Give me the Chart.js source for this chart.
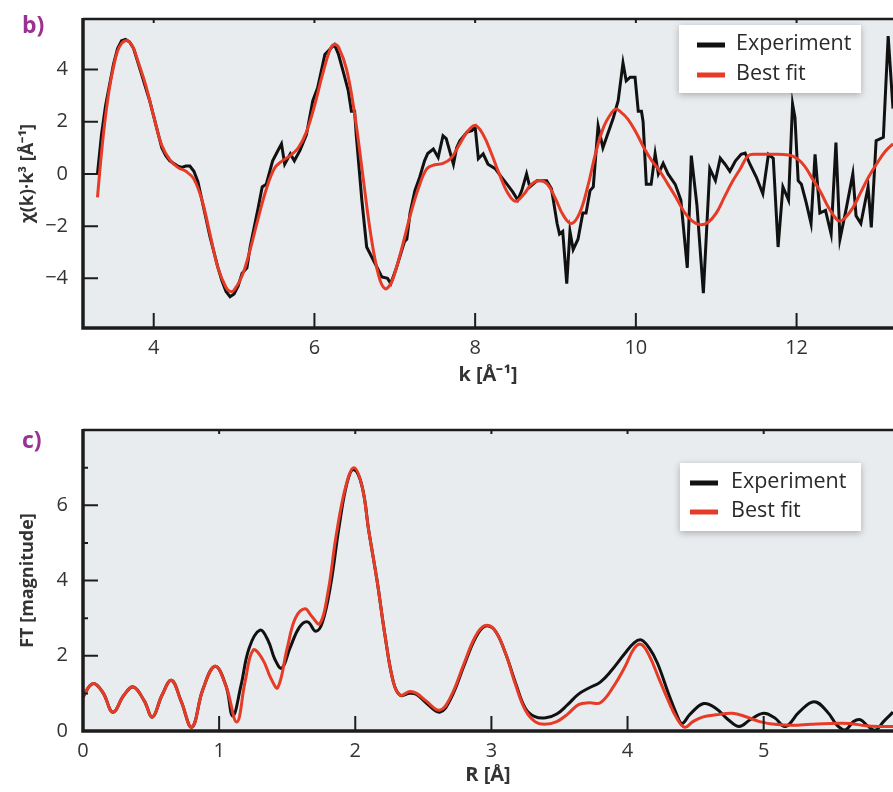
<!DOCTYPE html>
<html>
<head>
<meta charset="utf-8">
<script src="https://cdn.jsdelivr.net/npm/chart.js@4.4.1/dist/chart.umd.min.js"></script>
<style>
  body { margin: 0; background: #fff; }
  #wrap { position: relative; width: 893px; height: 792px; overflow: hidden; }
  .box { position: absolute; left: 0; width: 893px; height: 396px; }
  .tag { position: absolute; left: 22px; font: bold 23px "Open Sans", sans-serif; color: #9b3192; }
</style>
</head>
<body>
<div id="wrap">
  <div class="box" style="top:0"><canvas id="chartB" width="893" height="396"></canvas></div>
  <div class="box" style="top:396px"><canvas id="chartC" width="893" height="396"></canvas></div>
  <div class="tag" style="top:8px">b)</div>
  <div class="tag" style="top:423px">c)</div>
</div>
<script>
// ---- panel b: chi(k)*k^3 ----
const kExp = [3.3,3.35,3.4,3.45,3.5,3.55,3.6,3.65,3.7,3.75,3.8,3.85,3.9,3.95,4.0,4.05,4.1,4.15,4.2,4.25,4.3,4.35,4.4,4.45,4.5,4.55,4.6,4.65,4.7,4.75,4.8,4.85,4.9,4.95,5.0,5.05,5.1,5.16,5.2,5.24,5.3,5.35,5.4,5.48,5.53,5.59,5.63,5.7,5.75,5.82,5.9,5.98,6.04,6.13,6.21,6.25,6.3,6.36,6.42,6.46,6.5,6.52,6.59,6.65,6.75,6.84,6.91,6.95,7.02,7.09,7.12,7.15,7.19,7.25,7.31,7.37,7.41,7.48,7.54,7.6,7.64,7.73,7.77,7.81,7.9,7.96,8.0,8.04,8.1,8.16,8.25,8.33,8.41,8.47,8.53,8.58,8.64,8.68,8.77,8.89,8.95,9.02,9.05,9.09,9.14,9.18,9.22,9.28,9.34,9.38,9.43,9.47,9.53,9.59,9.72,9.78,9.84,9.88,9.93,9.99,10.03,10.07,10.09,10.13,10.19,10.24,10.28,10.34,10.4,10.49,10.56,10.64,10.69,10.76,10.84,10.92,10.99,11.05,11.11,11.17,11.24,11.31,11.36,11.42,11.5,11.58,11.65,11.71,11.77,11.83,11.9,11.95,11.98,12.02,12.06,12.12,12.18,12.23,12.29,12.36,12.43,12.49,12.54,12.62,12.7,12.74,12.8,12.89,12.93,12.99,13.08,13.14,13.2];
const chiExp = [0.0,1.5,2.6,3.4,4.2,4.8,5.1,5.15,5.05,4.8,4.3,3.8,3.3,2.8,2.2,1.6,1.0,0.7,0.5,0.4,0.3,0.25,0.3,0.3,0.1,-0.3,-1.0,-1.7,-2.4,-3.0,-3.6,-4.1,-4.5,-4.7,-4.6,-4.3,-3.8,-3.6,-2.8,-2.2,-1.3,-0.5,-0.4,0.5,0.8,1.15,0.37,0.77,0.5,0.9,1.5,2.8,3.3,4.57,4.83,4.95,4.57,3.9,3.2,2.4,2.4,1.5,-1.0,-2.8,-3.4,-3.95,-4.0,-4.2,-3.6,-2.9,-2.6,-2.5,-1.5,-0.64,-0.13,0.5,0.78,0.95,0.63,1.46,1.35,0.37,1.0,1.27,1.6,1.65,1.8,0.58,0.77,0.37,0.2,-0.13,-0.45,-0.7,-1.0,-0.64,0.0,-0.5,-0.26,-0.26,-0.57,-1.9,-2.3,-2.2,-4.2,-2.2,-2.9,-2.5,-1.5,-1.5,-0.64,-0.5,1.84,1.0,2.15,2.8,4.25,3.56,3.7,3.7,2.4,2.4,2.0,-0.4,-0.4,0.77,0.0,0.4,0.0,-0.4,-1.0,-3.6,0.7,-1.2,-4.57,0.2,-0.26,0.6,0.37,0.1,0.5,0.75,0.8,0.37,-0.13,-0.76,0.75,0.6,-2.8,-0.5,-1.0,2.67,2.15,-0.26,-0.4,-1.1,-1.9,0.75,-1.5,-1.4,-2.3,1.2,-2.5,-1.3,0.0,-1.6,-1.9,-0.5,-2.05,1.27,1.4,5.28,2.5];
const kFit = [3.3,3.35,3.4,3.45,3.5,3.55,3.6,3.65,3.7,3.75,3.8,3.9,4.0,4.1,4.2,4.3,4.4,4.5,4.6,4.7,4.8,4.9,4.95,5.0,5.1,5.2,5.3,5.4,5.5,5.6,5.7,5.8,5.9,6.0,6.1,6.2,6.25,6.3,6.4,6.5,6.6,6.7,6.8,6.88,6.95,7.0,7.1,7.2,7.3,7.4,7.5,7.6,7.7,7.8,7.9,8.0,8.1,8.2,8.3,8.4,8.5,8.6,8.7,8.8,8.9,9.0,9.1,9.2,9.3,9.4,9.5,9.6,9.7,9.75,9.8,9.9,10.0,10.1,10.2,10.3,10.4,10.5,10.6,10.7,10.8,10.9,11.0,11.1,11.2,11.3,11.4,11.5,11.7,11.9,12.0,12.1,12.2,12.3,12.4,12.5,12.55,12.6,12.7,12.8,12.9,13.0,13.1,13.2];
const chiFit = [-0.9,0.8,2.2,3.3,4.1,4.7,5.0,5.1,5.05,4.8,4.35,3.4,2.2,1.1,0.55,0.25,0.1,-0.2,-1.0,-2.3,-3.6,-4.35,-4.5,-4.45,-3.9,-2.9,-1.7,-0.6,0.2,0.5,0.7,1.0,1.6,2.6,3.8,4.8,4.95,4.85,4.0,2.3,0.0,-2.3,-3.9,-4.4,-4.2,-3.8,-2.7,-1.5,-0.5,0.2,0.35,0.4,0.6,1.1,1.6,1.85,1.5,0.8,0.0,-0.7,-1.05,-0.8,-0.4,-0.25,-0.4,-0.95,-1.6,-1.9,-1.5,-0.5,0.8,1.8,2.35,2.48,2.4,2.1,1.6,1.0,0.5,0.1,-0.4,-0.9,-1.45,-1.8,-1.95,-1.85,-1.5,-0.9,-0.3,0.2,0.7,0.75,0.75,0.72,0.6,0.3,-0.2,-0.7,-1.3,-1.75,-1.8,-1.7,-1.3,-0.7,-0.1,0.4,0.85,1.15];
const kTicks = [4, 6, 8, 10, 12];
const chiTicks = [-4, -2, 0, 2, 4];

// ---- panel c: FT magnitude ----
const rExp = [0.0,0.05,0.09,0.15,0.22,0.3,0.37,0.45,0.51,0.58,0.65,0.72,0.8,0.88,0.97,1.05,1.1,1.16,1.22,1.3,1.36,1.41,1.46,1.52,1.59,1.65,1.71,1.76,1.82,1.88,1.94,1.99,2.05,2.1,2.16,2.22,2.28,2.33,2.4,2.45,2.52,2.62,2.7,2.8,2.88,2.95,3.02,3.1,3.18,3.25,3.32,3.4,3.48,3.56,3.64,3.72,3.8,3.88,3.98,4.05,4.1,4.16,4.22,4.3,4.36,4.4,4.46,4.56,4.65,4.74,4.82,4.9,5.0,5.08,5.16,5.26,5.37,5.47,5.54,5.6,5.66,5.71,5.76,5.82,5.88,5.95];
const ftExp = [0.9,1.2,1.25,1.0,0.5,0.95,1.17,0.8,0.37,0.95,1.35,0.8,0.1,1.1,1.72,1.2,0.4,1.2,2.2,2.68,2.4,1.9,1.67,2.2,2.76,2.9,2.65,2.9,3.9,5.4,6.6,6.95,6.5,5.3,4.0,2.5,1.3,0.95,1.0,0.97,0.75,0.5,0.85,1.75,2.45,2.78,2.7,2.1,1.25,0.6,0.38,0.35,0.45,0.7,0.98,1.15,1.3,1.6,2.06,2.35,2.42,2.2,1.8,1.0,0.45,0.2,0.45,0.73,0.6,0.3,0.12,0.3,0.47,0.35,0.12,0.5,0.78,0.5,0.15,0.03,0.25,0.3,0.15,0.02,0.25,0.5];
const rFit = [0.0,0.05,0.09,0.15,0.22,0.3,0.37,0.45,0.51,0.58,0.65,0.72,0.8,0.88,0.97,1.05,1.13,1.19,1.25,1.32,1.38,1.43,1.5,1.56,1.63,1.68,1.74,1.8,1.86,1.93,1.99,2.05,2.1,2.16,2.22,2.28,2.33,2.4,2.45,2.52,2.62,2.7,2.8,2.88,2.95,3.02,3.1,3.18,3.25,3.32,3.39,3.48,3.56,3.64,3.72,3.8,3.9,3.98,4.05,4.1,4.16,4.23,4.3,4.36,4.42,4.48,4.55,4.65,4.77,4.87,4.97,5.1,5.21,5.35,5.5,5.63,5.75,5.85,5.95];
const ftFit = [0.9,1.2,1.25,1.0,0.5,0.95,1.17,0.8,0.37,0.95,1.35,0.8,0.1,1.1,1.72,1.2,0.24,1.3,2.15,1.9,1.4,1.15,2.2,3.0,3.25,3.05,2.85,3.7,5.2,6.5,7.0,6.5,5.3,4.0,2.5,1.3,0.95,1.05,1.0,0.8,0.55,0.9,1.8,2.5,2.8,2.7,2.1,1.2,0.55,0.25,0.18,0.25,0.45,0.7,0.75,0.75,1.2,1.7,2.2,2.3,2.0,1.4,0.8,0.35,0.1,0.25,0.37,0.43,0.47,0.38,0.25,0.17,0.15,0.18,0.2,0.2,0.14,0.12,0.12];
const rTicks = [0, 1, 2, 3, 4, 5];
const ftTicks = [0, 2, 4, 6];
const ftMinor = [1, 3, 5, 7];

Chart.defaults.font.family = '"Open Sans", sans-serif';
Chart.defaults.color = '#333';

const pts = (xs, ys) => xs.map((x, i) => ({ x: x, y: ys[i] }));
const minus = v => (v < 0 ? '\u2212' + Math.abs(v) : '' + v);

const framePlugin = {
  id: 'frame',
  beforeDatasetsDraw(chart) {
    const { ctx, chartArea: a } = chart;
    ctx.save();
    ctx.fillStyle = '#e9ecef';
    ctx.fillRect(a.left, a.top, a.right - a.left, a.bottom - a.top);
    ctx.restore();
  },
  afterDatasetsDraw(chart, args, opts) {
    const { ctx, chartArea: a, scales: { x, y } } = chart;
    ctx.save();
    ctx.strokeStyle = '#1c1c1c';
    ctx.lineWidth = 2;
    ctx.beginPath();
    x.ticks.forEach(t => {
      const px = x.getPixelForValue(t.value);
      ctx.moveTo(px, a.bottom); ctx.lineTo(px, a.bottom - 15);
      ctx.moveTo(px, a.top); ctx.lineTo(px, a.top + 4);
    });
    y.ticks.forEach(t => {
      const py = y.getPixelForValue(t.value);
      ctx.moveTo(a.left, py); ctx.lineTo(a.left + 15, py);
    });
    (opts.minorY || []).forEach(v => {
      const py = y.getPixelForValue(v);
      ctx.moveTo(a.left, py); ctx.lineTo(a.left + 5, py);
    });
    ctx.stroke();

    // frame: top thin, left and bottom thick
    ctx.lineWidth = 2.5;
    ctx.beginPath();
    ctx.moveTo(a.left, a.top); ctx.lineTo(a.right, a.top);
    ctx.stroke();
    ctx.lineWidth = 3.5;
    ctx.beginPath();
    ctx.moveTo(a.left, a.top - 1); ctx.lineTo(a.left, a.bottom); ctx.lineTo(a.right, a.bottom);
    ctx.stroke();

    // legend box
    const L = opts.legend;
    ctx.shadowColor = 'rgba(0,0,0,0.28)';
    ctx.shadowBlur = 7;
    ctx.shadowOffsetY = 2;
    ctx.fillStyle = '#fff';
    ctx.fillRect(L.x, L.y, L.w, L.h);
    ctx.shadowColor = 'transparent';
    ctx.font = '21.5px "Open Sans", sans-serif';
    ctx.textBaseline = 'middle';
    chart.data.datasets.forEach((ds, i) => {
      const yy = L.y + L.first + i * L.gap;
      ctx.strokeStyle = ds.borderColor;
      ctx.lineWidth = 5;
      ctx.beginPath();
      ctx.moveTo(L.x + L.l0, yy); ctx.lineTo(L.x + L.l1, yy);
      ctx.stroke();
      ctx.fillStyle = '#2a2a2a';
      ctx.fillText(ds.label, L.x + L.tx, yy - 1);
    });
    ctx.restore();
  }
};

function makeChart(id, cfg) {
  return new Chart(document.getElementById(id), {
    type: 'line',
    data: {
      datasets: [
        { label: 'Experiment', data: cfg.exp, borderColor: '#111111', borderWidth: 3, tension: cfg.expTension, order: 1 },
        { label: 'Best fit', data: cfg.fit, borderColor: '#e63b26', borderWidth: 3, tension: 0.4, order: 0 }
      ]
    },
    options: {
      responsive: false,
      animation: false,
      layout: { padding: { top: cfg.top, left: 0, right: 0, bottom: 0 } },
      elements: { point: { radius: 0 } },
      plugins: {
        legend: { display: false },
        tooltip: { enabled: false },
        frame: { legend: cfg.legend, minorY: cfg.minorY }
      },
      scales: {
        x: {
          type: 'linear',
          min: cfg.xMin, max: cfg.xMax,
          grid: { display: false },
          border: { display: false },
          afterBuildTicks: s => { s.ticks = cfg.xTicks.map(v => ({ value: v })); },
          afterFit: s => { s.height = cfg.xHeight; },
          ticks: { font: { size: 20 }, padding: 0, color: '#333', maxRotation: 0 },
          title: { display: true, text: cfg.xTitle, font: { size: 20, weight: 'bold' }, color: '#333', padding: { top: 0, bottom: cfg.xTitlePad } }
        },
        y: {
          type: 'linear',
          min: cfg.yMin, max: cfg.yMax,
          grid: { display: false },
          border: { display: false },
          afterBuildTicks: s => { s.ticks = cfg.yTicks.map(v => ({ value: v })); },
          afterFit: s => { s.width = 83; },
          ticks: { font: { size: 20 }, padding: 7, color: '#333', callback: minus },
          title: { display: true, text: cfg.yTitle, font: { size: 18, weight: 'bold' }, color: '#333', padding: { top: 17, bottom: 0 } }
        }
      }
    },
    plugins: [framePlugin]
  });
}

makeChart('chartB', {
  exp: pts(kExp, chiExp), fit: pts(kFit, chiFit), expTension: 0,
  top: 18, xMin: 3.12, xMax: 13.2, yMin: -5.9, yMax: 5.93,
  xTicks: kTicks, yTicks: chiTicks, xHeight: 68, xTitlePad: 9,
  xTitle: 'k [Å\u207B\u00B9]', yTitle: '\u03C7(k)\u00B7k\u00B3 [Å\u207B\u00B9]',
  legend: { x: 679, y: 25, w: 182, h: 68, first: 20, gap: 30, l0: 18, l1: 46, tx: 57 }
});

makeChart('chartC', {
  exp: pts(rExp, ftExp), fit: pts(rFit, ftFit), expTension: 0.4,
  top: 34, xMin: 0, xMax: 5.95, yMin: 0, yMax: 8,
  xTicks: rTicks, yTicks: ftTicks, minorY: ftMinor, xHeight: 61, xTitlePad: 5,
  xTitle: 'R [Å]', yTitle: 'FT [magnitude]',
  legend: { x: 680, y: 67, w: 181, h: 68, first: 20, gap: 29, l0: 10, l1: 38, tx: 51 }
});
</script>
</body>
</html>
